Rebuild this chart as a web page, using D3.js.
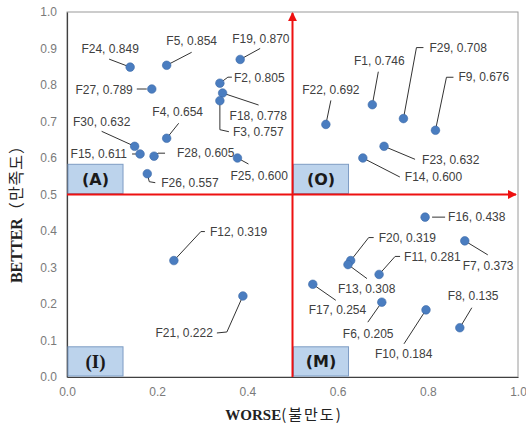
<!DOCTYPE html>
<html><head><meta charset="utf-8">
<script src="https://cdn.jsdelivr.net/npm/d3@7"></script>
<style>body{margin:0;background:#fff}</style>
</head><body>
<script>
const ids    = ["F24","F5","F19","F27","F2","F18","F3","F4","F30","F15","F28","F25","F26","F22","F1","F29","F9","F23","F14","F12","F21","F16","F7","F20","F13","F11","F17","F6","F10","F8"];
const worse  = [0.140,0.221,0.384,0.188,0.339,0.345,0.339,0.221,0.150,0.162,0.193,0.378,0.178,0.574,0.677,0.746,0.817,0.703,0.656,0.237,0.390,0.794,0.882,0.629,0.623,0.692,0.545,0.698,0.796,0.871];
const better = [0.849,0.854,0.870,0.789,0.805,0.778,0.757,0.654,0.632,0.611,0.605,0.600,0.557,0.692,0.746,0.708,0.676,0.632,0.600,0.319,0.222,0.438,0.373,0.319,0.308,0.281,0.254,0.205,0.184,0.135];
const xTicks = [0,0.2,0.4,0.6,0.8,1.0];
const yTicks = [0,0.1,0.2,0.3,0.4,0.5,0.6,0.7,0.8,0.9,1.0];
const quadrants = [
  {label:"(A)", x0:0, y0:0.5, serif:false},
  {label:"(O)", x0:0.5, y0:0.5, serif:false},
  {label:"(I)", x0:0, y0:0, serif:true},
  {label:"(M)", x0:0.5, y0:0, serif:false}
];
// label layout (pixel offsets from the point): leader polyline, text anchor, text offset
const labelLayout = {
  F24:{l:[[0,0],[-21,-8]],a:"middle",t:[-20,-18]},
  F5:{l:[[0,0],[25,-13]],a:"middle",t:[25,-24]},
  F19:{l:[[0,0],[20,-11]],a:"start",t:[-8,-21]},
  F27:{l:[[-5,0],[-15,0]],a:"end",t:[-19,1]},
  F2:{l:[[0,0],[8,-6],[12,-6]],a:"start",t:[14,-5]},
  F18:{l:[[0,0],[36,12]],a:"start",t:[7,23]},
  F3:{l:[[0,0],[0,29],[9,31]],a:"start",t:[13,31]},
  F4:{l:[[0,0],[12,-15]],a:"middle",t:[11,-26]},
  F30:{l:[[0,0],[-33,-15]],a:"middle",t:[-33,-25]},
  F15:{l:[[-3,0],[-8,0]],a:"end",t:[-13,0]},
  F28:{l:[[0,0],[4,-3],[11,-3]],a:"start",t:[23,-3]},
  F25:{l:[[0,0],[11,6]],a:"start",t:[-7,18]},
  F26:{l:[[0,0],[2,8],[8,9]],a:"start",t:[14,9]},
  F22:{l:[[0,0],[5,-24]],a:"middle",t:[5,-35]},
  F1:{l:[[0,0],[6,-33]],a:"middle",t:[7,-44]},
  F29:{l:[[0,0],[13,-71],[20,-71]],a:"start",t:[26,-71]},
  F9:{l:[[0,0],[11,-53],[18,-53]],a:"start",t:[23,-53]},
  F23:{l:[[0,0],[31,13]],a:"start",t:[38,13]},
  F14:{l:[[0,0],[37,19]],a:"start",t:[42,19]},
  F12:{l:[[0,0],[27,-29],[31,-29]],a:"start",t:[36,-29]},
  F21:{l:[[0,0],[-16,36],[-26,37]],a:"end",t:[-30,37]},
  F16:{l:[[7,0],[20,0]],a:"start",t:[23,0]},
  F7:{l:[[0,0],[23,14]],a:"start",t:[-2,25]},
  F20:{l:[[0,0],[18,-23],[23,-23]],a:"start",t:[28,-23]},
  F13:{l:[[0,0],[19,14]],a:"start",t:[-10,24]},
  F11:{l:[[0,0],[16,-18],[21,-18]],a:"start",t:[25,-18]},
  F17:{l:[[0,0],[23,16]],a:"start",t:[-4,26]},
  F6:{l:[[0,0],[-14,20]],a:"start",t:[-39,32]},
  F10:{l:[[0,0],[-22,34]],a:"start",t:[-51,44]},
  F8:{l:[[0,0],[12,-20]],a:"start",t:[-12,-32]}
};

const W=526,H=428;
const svg=d3.select("body").append("svg").attr("width",W).attr("height",H);
const x=d3.scaleLinear().domain([0,1]).range([67,518]);
const y=d3.scaleLinear().domain([0,1]).range([377,12]);
const labelFont="'Liberation Sans', Arial, sans-serif";

// plot border
svg.append("rect").attr("x",x(0)).attr("y",y(1)).attr("width",x(1)-x(0)).attr("height",y(0)-y(1))
  .attr("fill","none").attr("stroke","#9a9a9a").attr("stroke-width",1);

// axes (no tick marks)
const xAxis=svg.append("g").attr("transform",`translate(0,${y(0)})`)
  .call(d3.axisBottom(x).tickValues(xTicks).tickFormat(d3.format(".1f")).tickSize(0).tickPadding(10));
const yAxis=svg.append("g").attr("transform",`translate(${x(0)},0)`)
  .call(d3.axisLeft(y).tickValues(yTicks).tickFormat(d3.format(".1f")).tickSize(0).tickPadding(10));
[xAxis,yAxis].forEach(g=>{
  g.select(".domain").attr("stroke","#404040").attr("stroke-width",1.2);
  g.selectAll("text").attr("fill","#7a7a7a").style("font-family",labelFont).style("font-size","12px");
});

// quadrant boxes
const bw=x(0.122)-x(0), bh=y(0)-y(0.08);
quadrants.forEach(q=>{
  const bx=x(q.x0)+1, by=y(q.y0)-bh-1;
  svg.append("rect").attr("x",bx).attr("y",by).attr("width",bw).attr("height",bh)
    .attr("fill","#bcd3ec").attr("stroke","#7d9cc4").attr("stroke-width",1);
  svg.append("text").attr("x",bx+bw/2).attr("y",by+bh/2).attr("dy","0.36em")
    .attr("text-anchor","middle").attr("font-weight","bold")
    .style("font-family",q.serif?"'Liberation Serif', 'DejaVu Serif', serif":"'DejaVu Sans', 'Liberation Sans', sans-serif")
    .style("font-size",q.serif?"19px":"16px").attr("fill","#1a1a1a").text(q.label);
});

// red quadrant lines with arrows
const defs=svg.append("defs");
defs.append("marker").attr("id","arr").attr("viewBox","0 0 10 10").attr("refX",9).attr("refY",5)
  .attr("markerWidth",4.5).attr("markerHeight",4.5).attr("orient","auto-start-reverse")
  .append("path").attr("d","M0,0L10,5L0,10z").attr("fill","#ee1111");
svg.append("line").attr("x1",x(0.5)).attr("y1",y(0)).attr("x2",x(0.5)).attr("y2",y(1)+1)
  .attr("stroke","#ee1111").attr("stroke-width",2).attr("marker-end","url(#arr)");
svg.append("line").attr("x1",x(0)).attr("y1",y(0.5)).attr("x2",x(1)-2).attr("y2",y(0.5))
  .attr("stroke","#ee1111").attr("stroke-width",2).attr("marker-end","url(#arr)");

// leaders
const pts=ids.map((id,i)=>({id,wx:worse[i],by:better[i]}));
const line=d3.line();
svg.append("g").selectAll("path").data(pts).join("path")
  .attr("d",d=>{const px=x(d.wx),py=y(d.by);return line(labelLayout[d.id].l.map(p=>[px+p[0],py+p[1]]));})
  .attr("fill","none").attr("stroke","#333").attr("stroke-width",1);

// points
svg.append("g").selectAll("circle").data(pts).join("circle")
  .attr("cx",d=>x(d.wx)).attr("cy",d=>y(d.by)).attr("r",4.3)
  .attr("fill","#4a7dc0").attr("stroke","#3d6aa8").attr("stroke-width",0.6);

// labels
svg.append("g").selectAll("text").data(pts).join("text")
  .attr("x",d=>x(d.wx)+labelLayout[d.id].t[0]).attr("y",d=>y(d.by)+labelLayout[d.id].t[1])
  .attr("dy","0.35em").attr("text-anchor",d=>labelLayout[d.id].a)
  .style("font-family",labelFont).style("font-size","12px").attr("fill","#404040")
  .text(d=>`${d.id}, ${d.by.toFixed(3)}`);

// axis titles
svg.append("text").attr("x",284).attr("y",420).attr("text-anchor","middle")
  .attr("fill","#222").style("font-size","15px")
  .html("<tspan style=\"font-family:'Liberation Serif',serif;font-weight:bold\">WORSE</tspan><tspan style=\"font-family:'Noto Sans CJK KR',sans-serif;letter-spacing:2px\">(불만도)</tspan>");
svg.append("text").attr("transform",`translate(22,210) rotate(-90)`).attr("text-anchor","middle")
  .attr("fill","#222").style("font-size","16px")
  .html("<tspan style=\"font-family:'Liberation Serif',serif;font-weight:bold\">BETTER</tspan><tspan style=\"font-family:'Noto Sans CJK KR',sans-serif;letter-spacing:1px\">（만족도）</tspan>");
</script>
</body></html>
